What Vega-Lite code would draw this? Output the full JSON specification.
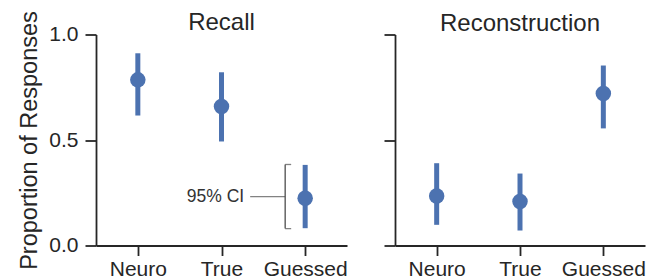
{
  "$schema": "https://vega.github.io/schema/vega-lite/v6.json",
  "padding": {"left": 17, "top": 10.5, "right": 5, "bottom": 5},
  "config": {
    "font": "Liberation Sans",
    "view": {"stroke": null},
    "axis": {
      "domainColor": "#262626", "tickColor": "#262626", "domainWidth": 1.8, "tickWidth": 1.8,
      "labelColor": "#262626", "labelFontSize": 21, "titleFontSize": 23.5, "titleColor": "#262626",
      "titleFontWeight": "normal", "grid": false, "tickSize": 11, "labelPadding": 5
    },
    "title": {"fontSize": 24, "fontWeight": "normal", "color": "#262626", "baseline": "alphabetic", "frame": "group"}
  },
  "datasets": {
    "ci": [
      {"task": "Recall", "condition": "Neuro", "mean": 0.785, "lo": 0.616, "hi": 0.911},
      {"task": "Recall", "condition": "True", "mean": 0.659, "lo": 0.493, "hi": 0.821},
      {"task": "Recall", "condition": "Guessed", "mean": 0.224, "lo": 0.082, "hi": 0.382},
      {"task": "Reconstruction", "condition": "Neuro", "mean": 0.235, "lo": 0.098, "hi": 0.39},
      {"task": "Reconstruction", "condition": "True", "mean": 0.209, "lo": 0.071, "hi": 0.341},
      {"task": "Reconstruction", "condition": "Guessed", "mean": 0.72, "lo": 0.555, "hi": 0.853}
    ],
    "note": [
      {"condition": "Guessed", "top": 0.384, "bottom": 0.08, "mid": 0.232, "label": "95% CI"}
    ]
  },
  "spacing": 48,
  "bounds": "flush",
  "hconcat": [
    {
      "width": 251,
      "height": 211,
      "title": {"text": "Recall", "offset": -24},
      "layer": [
        {
          "data": {"name": "ci"},
          "transform": [{"filter": "datum.task === 'Recall'"}],
          "mark": {"type": "rule", "color": "#4c72b0", "strokeWidth": 5},
          "encoding": {
            "x": {"field": "condition", "type": "nominal", "scale": {"type": "point", "padding": 0.5, "domain": ["Neuro", "True", "Guessed"]}, "axis": {"title": null, "labelAngle": 0, "labelPadding": 3, "tickSize": 10}},
            "y": {"field": "lo", "type": "quantitative", "scale": {"domain": [0, 1], "nice": false}, "axis": {"title": "Proportion of Responses", "values": [0, 0.5, 1], "format": ".1f", "labelPadding": 7, "tickSize": 11, "titlePadding": 7}},
            "y2": {"field": "hi"}
          }
        },
        {
          "data": {"name": "ci"},
          "transform": [{"filter": "datum.task === 'Recall'"}],
          "mark": {"type": "point", "filled": true, "opacity": 1, "color": "#4c72b0", "size": 240},
          "encoding": {
            "x": {"field": "condition", "type": "nominal"},
            "y": {"field": "mean", "type": "quantitative"}
          }
        },
        {
          "data": {"name": "note"},
          "mark": {"type": "rule", "color": "#4d4d4d", "strokeWidth": 1.3, "xOffset": -20},
          "encoding": {
            "x": {"field": "condition", "type": "nominal"},
            "y": {"field": "top", "type": "quantitative"},
            "y2": {"field": "bottom"}
          }
        },
        {
          "data": {"name": "note"},
          "mark": {"type": "tick", "color": "#4d4d4d", "thickness": 1.3, "size": 6, "xOffset": -17, "orient": "horizontal"},
          "encoding": {
            "x": {"field": "condition", "type": "nominal"},
            "y": {"field": "top", "type": "quantitative"}
          }
        },
        {
          "data": {"name": "note"},
          "mark": {"type": "tick", "color": "#4d4d4d", "thickness": 1.3, "size": 6, "xOffset": -17, "orient": "horizontal"},
          "encoding": {
            "x": {"field": "condition", "type": "nominal"},
            "y": {"field": "bottom", "type": "quantitative"}
          }
        },
        {
          "data": {"name": "note"},
          "mark": {"type": "tick", "color": "#4d4d4d", "thickness": 1.3, "size": 35, "xOffset": -37.5, "orient": "horizontal"},
          "encoding": {
            "x": {"field": "condition", "type": "nominal"},
            "y": {"field": "mid", "type": "quantitative"}
          }
        },
        {
          "data": {"name": "note"},
          "mark": {"type": "text", "color": "#333333", "fontSize": 17.5, "align": "right", "baseline": "middle", "xOffset": -61},
          "encoding": {
            "x": {"field": "condition", "type": "nominal"},
            "y": {"field": "mid", "type": "quantitative"},
            "text": {"field": "label"}
          }
        }
      ]
    },
    {
      "width": 250,
      "height": 211,
      "title": {"text": "Reconstruction", "offset": -2},
      "data": {"name": "ci"},
      "transform": [{"filter": "datum.task === 'Reconstruction'"}],
      "encoding": {
        "x": {"field": "condition", "type": "nominal", "scale": {"type": "point", "padding": 0.5, "domain": ["Neuro", "True", "Guessed"]}, "axis": {"title": null, "labelAngle": 0, "labelPadding": 3, "tickSize": 10}}
      },
      "layer": [
        {
          "mark": {"type": "rule", "color": "#4c72b0", "strokeWidth": 5},
          "encoding": {
            "y": {"field": "lo", "type": "quantitative", "scale": {"domain": [0, 1], "nice": false}, "axis": {"title": null, "labels": false, "values": [0, 0.5, 1], "tickSize": 11}},
            "y2": {"field": "hi"}
          }
        },
        {
          "mark": {"type": "point", "filled": true, "opacity": 1, "color": "#4c72b0", "size": 240},
          "encoding": {
            "y": {"field": "mean", "type": "quantitative"}
          }
        }
      ]
    }
  ]
}
